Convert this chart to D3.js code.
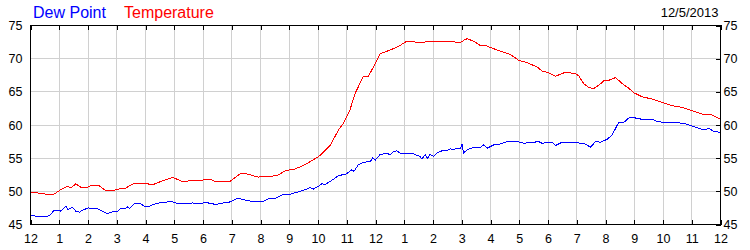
<!DOCTYPE html>
<html>
<head>
<meta charset="utf-8">
<script src="https://cdn.jsdelivr.net/npm/d3@7"></script>
<style>
  html, body { margin: 0; padding: 0; background: #fff; }
  svg { display: block; font-family: "Liberation Sans", Arial, sans-serif; }
</style>
</head>
<body>
<script>
// ---- data ----
const seriesNames = ["Dew Point", "Temperature"];
const seriesColors = ["#0000ff", "#ff0000"];
const dateLabel = "12/5/2013";
const xTickLabels = ["12","1","2","3","4","5","6","7","8","9","10","11","12","1","2","3","4","5","6","7","8","9","10","11","12"];
const yTickValues = [45, 50, 55, 60, 65, 70, 75];

const tempHours = [0,0.35,0.71,0.83,1.05,1.29,1.4,1.58,1.75,1.93,2.1,2.39,2.62,2.86,3.09,3.32,3.61,3.9,4.25,4.54,4.95,5.06,5.3,5.59,5.89,6.05,6.3,6.41,6.93,7.28,7.46,7.92,8.21,8.56,8.91,9.14,9.49,9.84,10.07,10.42,10.65,10.71,10.88,11.11,11.29,11.58,11.75,11.93,12.16,12.39,12.62,12.86,13.09,13.32,13.44,13.67,13.79,14.71,14.83,14.95,15.06,15.18,15.41,15.64,15.88,16.11,16.34,16.69,16.98,17.27,17.62,17.79,18.03,18.26,18.55,18.72,18.95,19.07,19.24,19.42,19.59,19.77,19.94,20.12,20.35,20.58,20.82,20.99,21.28,21.63,21.97,22.32,22.67,23.02,23.37,23.66,24];
const tempValues = [49.9,49.7,49.45,49.6,50.25,50.75,50.5,51.15,50.6,50.5,50.9,50.85,50.1,50.1,50.35,50.5,51.25,51.25,51.0,51.5,52.1,51.9,51.4,51.65,51.6,51.75,51.75,51.45,51.45,52.6,52.7,52.15,52.25,52.35,53.2,53.25,53.9,54.75,55.4,56.9,58.75,59.25,60.25,62.25,64.75,67.35,67.35,68.75,70.75,71.1,71.5,72.0,72.65,72.65,72.4,72.4,72.65,72.65,72.4,72.4,72.75,73.0,72.65,72.0,71.9,71.5,71.15,70.65,69.75,69.4,68.75,68.15,67.85,67.35,67.85,67.9,67.75,67.4,66.25,65.65,65.5,66.0,66.65,66.75,67.15,66.25,65.5,64.85,64.25,63.9,63.4,62.9,62.65,62.15,61.65,61.6,60.9];

const dewHours = [0,0.13,0.36,0.59,0.67,0.83,1.0,1.06,1.23,1.31,1.46,1.58,1.7,1.81,2.01,2.33,2.51,2.68,2.86,3.03,3.15,3.26,3.38,3.44,3.61,3.84,3.96,4.08,4.25,4.48,4.72,4.89,5.01,5.36,5.64,5.93,6.05,6.18,6.47,6.59,6.88,7.05,7.22,7.4,7.75,8.04,8.27,8.56,8.79,9.02,9.37,9.61,9.72,9.84,10.01,10.13,10.24,10.48,10.71,11.0,11.17,11.25,11.4,11.58,11.81,11.9,11.99,12.16,12.39,12.51,12.62,12.74,12.86,13.09,13.32,13.55,13.61,13.73,13.81,13.9,14.02,14.13,14.31,14.48,14.6,14.71,14.83,14.95,15.01,15.06,15.18,15.41,15.64,15.76,15.88,16.11,16.34,16.58,16.92,17.15,17.5,17.68,17.79,18.03,18.16,18.26,18.49,18.72,19.19,19.3,19.48,19.65,19.83,20.06,20.23,20.46,20.64,20.82,20.99,21.28,21.51,21.63,21.8,22.09,22.44,22.79,23.02,23.25,23.43,23.6,23.78,24];
const dewValues = [46.35,46.3,46.15,46.25,46.4,47.15,47.15,47.0,47.75,47.25,47.6,47.0,46.85,47.15,47.5,47.35,47.0,46.65,46.9,47.0,47.5,47.35,47.65,47.4,48.1,48.1,47.75,47.65,48.0,48.25,48.35,48.55,48.25,48.15,48.25,48.15,48.3,48.25,48.0,48.2,48.3,48.65,49.0,48.75,48.45,48.4,48.85,49.0,49.55,49.55,50.0,50.35,50.6,50.35,50.75,51.15,51.0,51.65,52.35,52.65,53.25,53.0,54.0,54.4,54.45,55.0,54.7,55.55,55.75,55.5,56.0,56.1,55.75,55.65,55.65,55.25,54.9,55.5,55.0,55.6,55.25,55.75,56.1,56.1,56.4,56.25,56.5,56.4,57.1,55.75,56.25,56.6,56.6,57.0,56.5,57.0,57.15,57.5,57.5,57.25,57.4,57.5,57.25,57.35,57.4,56.9,57.4,57.4,57.25,57.1,56.65,57.5,57.4,57.85,58.5,60.4,60.4,61.1,61.1,60.85,60.75,60.85,60.5,60.4,60.4,60.15,59.85,59.5,59.25,59.5,59.0,58.9];

// ---- layout ----
const W = 750, H = 250;
const plotLeft = 30.5, plotRight = 720.5, plotTop = 25.5, plotBottom = 224.5;

const svg = d3.select("body").append("svg").attr("width", W).attr("height", H);

const x = d3.scaleLinear().domain([0, 24]).range([plotLeft, plotRight]);
const y = d3.scaleLinear().domain([45, 75]).range([plotBottom, plotTop]);
const xTicks = d3.range(0, 25);

// gridlines
const grid = svg.append("g").attr("shape-rendering", "crispEdges");
grid.selectAll("line.vx").data(xTicks.slice(1, -1)).join("line")
  .attr("class", "vx")
  .attr("x1", d => x(d)).attr("x2", d => x(d)).attr("y1", plotTop).attr("y2", plotBottom)
  .attr("stroke", "#d0d0d0").attr("stroke-width", 1);
grid.selectAll("line.hy").data(yTickValues.slice(1, -1)).join("line")
  .attr("class", "hy")
  .attr("x1", plotLeft).attr("x2", plotRight).attr("y1", d => y(d)).attr("y2", d => y(d))
  .attr("stroke", "#d0d0d0").attr("stroke-width", 1);

// series lines
const line = d3.line().x(d => x(d[0])).y(d => y(d[1]));
const dewData = dewHours.map((h, i) => [h, dewValues[i]]);
const tempData = tempHours.map((h, i) => [h, tempValues[i]]);
[dewData, tempData].forEach((data, i) => {
  svg.append("path").datum(data)
    .attr("d", line).attr("fill", "none")
    .attr("stroke", seriesColors[i]).attr("stroke-width", 1)
    .attr("shape-rendering", "crispEdges");
});

// axes
const fontSize = "12.5px";
const styleAxis = g => {
  g.select(".domain").remove();
  g.selectAll(".tick line").attr("stroke", "#000").attr("shape-rendering", "crispEdges");
  g.selectAll("text").attr("fill", "#000").style("font-size", fontSize)
    .style("font-family", '"Liberation Sans", Arial, sans-serif');
};

svg.append("g").attr("transform", `translate(0,${plotBottom + 0.5})`)
  .call(d3.axisBottom(x).tickValues(xTicks).tickFormat((d, i) => xTickLabels[i])
    .tickSizeInner(-5).tickSizeOuter(0).tickPadding(9))
  .call(styleAxis);

svg.append("g").attr("transform", `translate(0,${plotTop - 0.5})`)
  .call(d3.axisTop(x).tickValues(xTicks).tickFormat("")
    .tickSizeInner(-5).tickSizeOuter(0))
  .call(styleAxis);

svg.append("g").attr("transform", `translate(${plotLeft},0)`)
  .call(d3.axisLeft(y).tickValues(yTickValues).tickFormat(d3.format("d"))
    .tickSizeInner(0).tickSizeOuter(0).tickPadding(8))
  .call(styleAxis);

svg.append("g").attr("transform", `translate(${plotRight},0)`)
  .call(d3.axisRight(y).tickValues(yTickValues).tickFormat(d3.format("d"))
    .tickSizeInner(-5).tickSizeOuter(0).tickPadding(3))
  .call(styleAxis);

// frame
svg.append("rect")
  .attr("x", plotLeft).attr("y", plotTop).attr("width", plotRight - plotLeft).attr("height", plotBottom - plotTop)
  .attr("fill", "none").attr("stroke", "#000").attr("stroke-width", 1)
  .attr("shape-rendering", "crispEdges");

// legend
const legendX = [33, 124];
seriesNames.forEach((name, i) => {
  svg.append("text").attr("x", legendX[i]).attr("y", 17.5)
    .attr("fill", seriesColors[i]).style("font-size", "16px").text(name);
});

// date
svg.append("text").attr("x", 718.5).attr("y", 16.7).attr("text-anchor", "end")
  .attr("fill", "#000").style("font-size", "13px").text(dateLabel);
</script>
</body>
</html>
